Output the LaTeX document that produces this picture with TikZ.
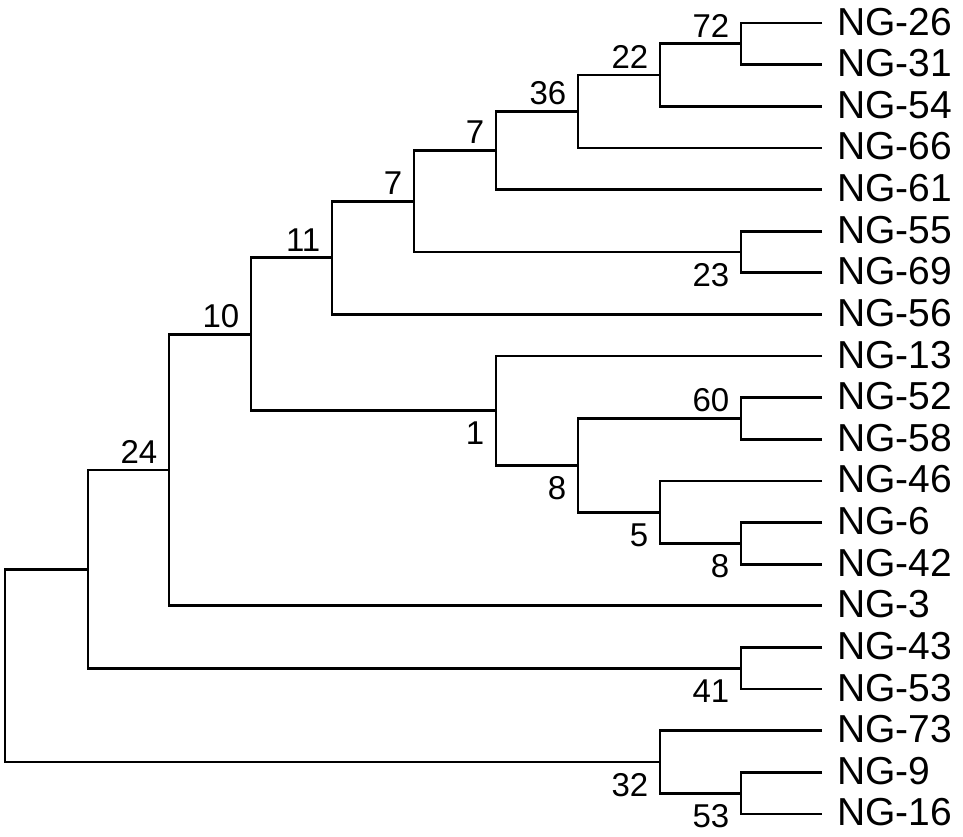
\documentclass[tikz,border=0pt]{standalone}
\usepackage{fontspec}
\setmainfont{Liberation Sans}
\begin{document}
\begin{tikzpicture}[x=1pt,y=-1pt,
  branch/.style={line width=2.7pt, line join=miter},
  leaflab/.style={anchor=base west, inner sep=0pt, font=\fontsize{39}{39}\selectfont},
  supabove/.style={anchor=south east, inner sep=0pt, font=\fontsize{33}{33}\selectfont},
  supbelow/.style={anchor=north east, inner sep=0pt, font=\fontsize{33}{33}\selectfont}]
\useasboundingbox (0,0) rectangle (963,836);
% leaves
\foreach \n [count=\i from 0] in {26,31,54,66,61,55,69,56,13,52,58,46,6,42,3,43,53,73,9,16} {
  \coordinate (L\n) at (822,{23+41.63*\i});
  \node[leaflab] (T\n) at (837,{35+41.63*\i}) {NG-\n};
}
% internal nodes
\coordinate (n72) at (741,43.8);
\coordinate (n22) at (660,75.05);
\coordinate (n36) at (578,111.5);
\coordinate (n7a) at (496,150.5);
\coordinate (n23) at (741,252.0);
\coordinate (n7b) at (414,201.25);
\coordinate (n11) at (332,257.8);
\coordinate (n60) at (741,418.5);
\coordinate (n8b) at (741,543.4);
\coordinate (n5)  at (660,512.15);
\coordinate (n8a) at (578,465.3);
\coordinate (n1)  at (496,410.65);
\coordinate (n10) at (251,334.2);
\coordinate (n24) at (169,470.0);
\coordinate (n41) at (741,668.3);
\coordinate (nA)  at (88,569.15);
\coordinate (n53) at (741,793.15);
\coordinate (n32) at (660,761.9);
\coordinate (root) at (5,665.5);
% branches
\draw[branch] (L26) -| (n72) |- (L31);
\draw[branch] (n72) -| (n22) |- (L54);
\draw[branch] (n22) -| (n36) |- (L66);
\draw[branch] (n36) -| (n7a) |- (L61);
\draw[branch] (L55) -| (n23) |- (L69);
\draw[branch] (n7a) -| (n7b) |- (n23);
\draw[branch] (n7b) -| (n11) |- (L56);
\draw[branch] (L52) -| (n60) |- (L58);
\draw[branch] (L6) -| (n8b) |- (L42);
\draw[branch] (L46) -| (n5) |- (n8b);
\draw[branch] (n60) -| (n8a) |- (n5);
\draw[branch] (L13) -| (n1) |- (n8a);
\draw[branch] (n11) -| (n10) |- (n1);
\draw[branch] (n10) -| (n24) |- (L3);
\draw[branch] (L43) -| (n41) |- (L53);
\draw[branch] (n24) -| (nA) |- (n41);
\draw[branch] (L9) -| (n53) |- (L16);
\draw[branch] (L73) -| (n32) |- (n53);
\draw[branch] (nA) -| (root) |- (n32);
% support labels
\node[supabove] (s72) at ([xshift=-11.5pt,yshift=6.5pt]n72) {72};
\node[supabove] (s22) at ([xshift=-11.5pt,yshift=6.5pt]n22) {22};
\node[supabove] (s36) at ([xshift=-11.5pt,yshift=6.5pt]n36) {36};
\node[supabove] (s7a) at ([xshift=-11.5pt,yshift=6.5pt]n7a) {7};
\node[supabove] (s7b) at ([xshift=-11.5pt,yshift=6.5pt]n7b) {7};
\node[supabove] (s11) at ([xshift=-11.5pt,yshift=6.5pt]n11) {11};
\node[supabove] (s10) at ([xshift=-11.5pt,yshift=6.5pt]n10) {10};
\node[supabove] (s24) at ([xshift=-11.5pt,yshift=6.5pt]n24) {24};
\node[supabove] (s60) at ([xshift=-11.5pt,yshift=6.5pt]n60) {60};
\node[supbelow] (s23) at ([xshift=-11.5pt,yshift=-11pt]n23) {23};
\node[supbelow] (s1)  at ([xshift=-11.5pt,yshift=-11pt]n1) {1};
\node[supbelow] (s8a) at ([xshift=-11.5pt,yshift=-11pt]n8a) {8};
\node[supbelow] (s5)  at ([xshift=-11.5pt,yshift=-11pt]n5) {5};
\node[supbelow] (s8b) at ([xshift=-11.5pt,yshift=-11pt]n8b) {8};
\node[supbelow] (s41) at ([xshift=-11.5pt,yshift=-11pt]n41) {41};
\node[supbelow] (s32) at ([xshift=-11.5pt,yshift=-11pt]n32) {32};
\node[supbelow] (s53) at ([xshift=-11.5pt,yshift=-11pt]n53) {53};
\end{tikzpicture}
\end{document}
